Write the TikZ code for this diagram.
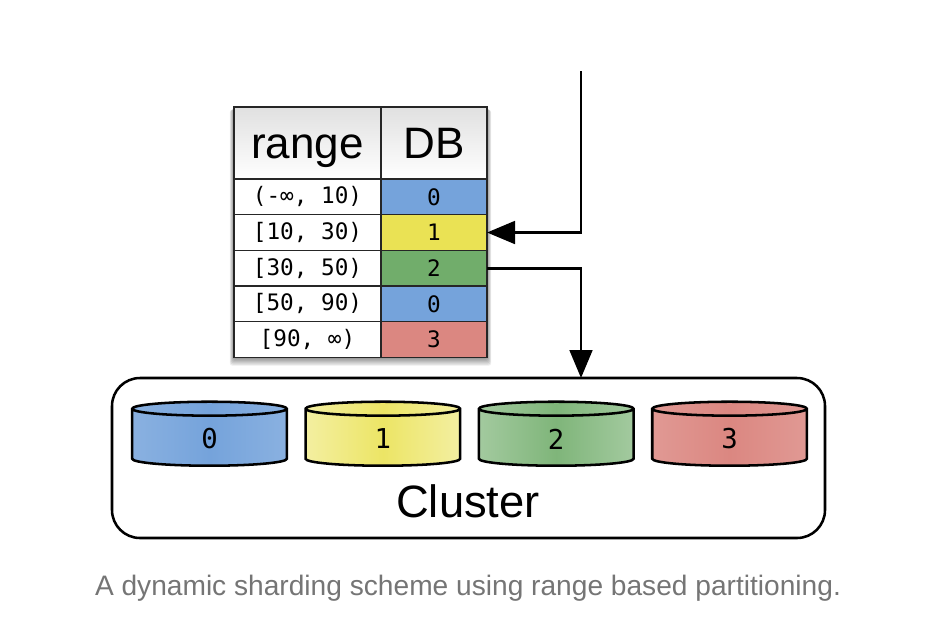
\documentclass[tikz,border=0pt]{standalone}
\usepackage{fontspec}
\setmainfont{Liberation Sans}
\setmonofont{DejaVu Sans Mono}
\usepackage{xcolor}
\usetikzlibrary{shapes.geometric,arrows.meta,positioning,calc,backgrounds}
\definecolor{shardblue}{RGB}{117,163,219}
\definecolor{shardyellow}{RGB}{234,226,84}
\definecolor{shardgreen}{RGB}{113,173,107}
\definecolor{shardred}{RGB}{219,135,129}
\definecolor{captiongray}{RGB}{117,117,117}
\tikzset{
  cell/.style={rectangle, draw=black!85, line width=1.1pt, outer sep=0pt, inner sep=0pt, align=center},
  headcell/.style={cell, minimum height=54pt, text height=27.25pt, text depth=4.75pt, font=\fontsize{33}{36}\selectfont, top color=black!12, bottom color=white},
  rangecell/.style={cell, minimum width=110.25pt, minimum height=26.75pt, fill=white, font=\ttfamily\fontsize{17}{18}\selectfont},
  dbcell/.style={cell, minimum width=79.5pt, minimum height=26.75pt, font=\ttfamily\fontsize{17}{18}\selectfont},
  disk/.style n args={2}{cylinder, shape border rotate=90, aspect=0.55, draw=black, line width=1.9pt, outer sep=0pt,
    minimum width=116pt, minimum height=48pt, font=\ttfamily\fontsize{20.5}{22}\selectfont,
    path picture={\shade[left color=#1, right color=#1, middle color=#2]
      (path picture bounding box.south west) rectangle (path picture bounding box.north east);}},
  arrow/.style={-{Triangle[length=21pt, width=17pt]}, line width=2.2pt},
}

\begin{document}
\begin{tikzpicture}[x=0.75pt, y=-0.75pt]
  \useasboundingbox (0,0) rectangle (930,636);

  % Table header
  \node[headcell, anchor=north west, minimum width=110.25pt] (rangehead) at (234,107) {range};
  \node[headcell, right=0pt of rangehead, minimum width=79.5pt] (dbhead) {DB};

  % Table rows
  \node[rangecell, below=0pt of rangehead] (rangea) {(-∞, 10)};
  \node[rangecell, below=0pt of rangea] (rangeb) {[10, 30)};
  \node[rangecell, below=0pt of rangeb] (rangec) {[30, 50)};
  \node[rangecell, below=0pt of rangec] (ranged) {[50, 90)};
  \node[rangecell, below=0pt of ranged] (rangee) {[90, ∞)};

  \node[dbcell, fill=shardblue, below=0pt of dbhead] (dba) {0};
  \node[dbcell, fill=shardyellow, below=0pt of dba] (dbb) {1};
  \node[dbcell, fill=shardgreen, below=0pt of dbb] (dbc) {2};
  \node[dbcell, fill=shardblue, below=0pt of dbc] (dbd) {0};
  \node[dbcell, fill=shardred, below=0pt of dbd] (dbe) {3};

  % Table shadow
  \begin{scope}[on background layer]
    \foreach \s in {1,...,7} {
      \fill[black, opacity=0.07, rounded corners=2pt]
        ($(rangehead.north west)+(-\s*0.6,\s*0.4)$) rectangle ($(dbe.south east)+(\s*0.6,\s*1.2)$);
    }
  \end{scope}

  % Cluster
  \node[draw=black, line width=1.9pt, rounded corners=21pt, minimum width=534.75pt, minimum height=120pt,
    outer sep=0pt, anchor=north west] (cluster) at (112,378) {};
  \node[font=\fontsize{34}{36}\selectfont] (clusterlabel) at (468,501) {Cluster};

  % Disks
  \node[disk={shardblue!85!white}{shardblue}] (diska) at (209.5,439) {0};
  \node[disk={shardyellow!55!white}{shardyellow!90!white}, right=14pt of diska] (diskb) {1};
  \node[disk={shardgreen!65!white}{shardgreen!90!white}, right=14pt of diskb] (diskc) {2};
  \node[disk={shardred!85!white}{shardred}, right=14pt of diskc] (diskd) {3};

  % Arrows
  \coordinate (entry) at (581,71);
  \draw[arrow] (entry) |- (dbb.east);
  \draw[arrow] (dbc.east) -| (cluster.north -| entry);

  % Caption
  \node[font=\fontsize{21.1}{24}\selectfont, text=captiongray] (caption) at (468,588.5) {A dynamic sharding scheme using range based partitioning.};
\end{tikzpicture}
\end{document}
